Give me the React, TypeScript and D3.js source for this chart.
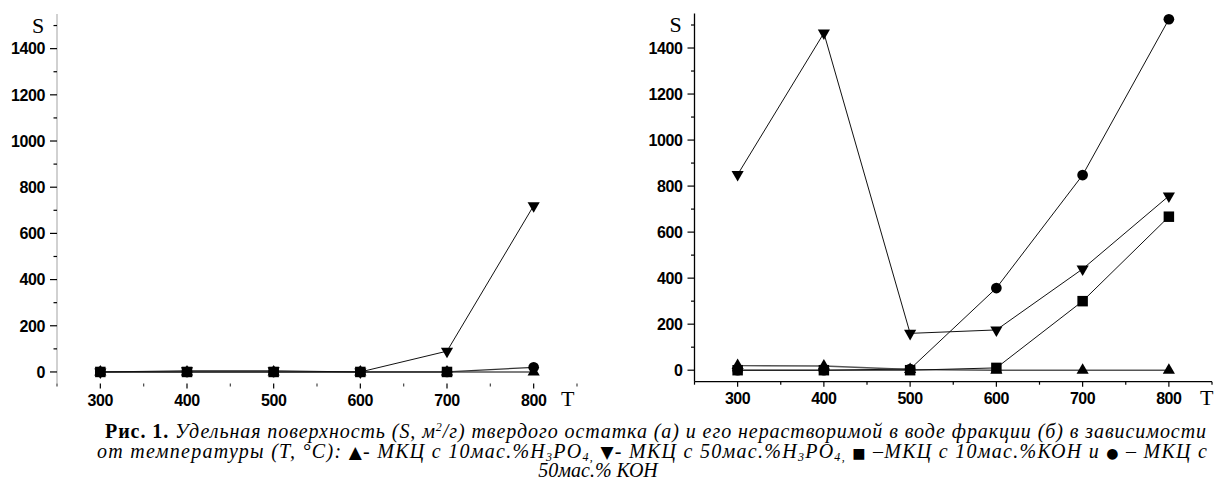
import React from 'react';
import * as d3 from 'd3';

const temps = [300, 400, 500, 600, 700, 800];
const xTicks = [300, 400, 500, 600, 700, 800];
const xMinor = [250, 350, 450, 550, 650, 750, 850];
const yTicks = [0, 200, 400, 600, 800, 1000, 1200, 1400];
const yMinor = [100, 300, 500, 700, 900, 1100, 1300, 1500];

// (а) твердый остаток
const aTriUp = [0, 0, 0, 0, 0, 0];
const aTriDown = [0, 5, 5, 0, 90, 720];
const aSquare = [0, 0, 0, 0, 0, null];
const aCircle = [0, 0, 0, 0, 0, 20];

// (б) нерастворимая фракция
const bTriUp = [20, 18, 3, 0, 0, 0];
const bTriDown = [850, 1465, 160, 175, 440, 757];
const bSquare = [0, 0, 0, 10, 300, 667];
const bCircle = [0, 0, 5, 357, 848, 1525];

type Shape = 'up' | 'down' | 'square' | 'circle';
type Series = { values: (number | null)[]; shape: Shape; color: string; width: number };

const symbolPath = (shape: Shape) => {
  if (shape === 'circle') return d3.symbol(d3.symbolCircle, 90)()!;
  if (shape === 'square') return d3.symbol(d3.symbolSquare, 110)()!;
  return d3.symbol(d3.symbolTriangle, 64)()!;
};

const Panel = ({ left, right, top, bottom, axisColor, xLine, series, tLabel }: {
  left: number; right: number; top: number; bottom: number; axisColor: string;
  xLine: boolean; series: Series[]; tLabel: [number, number];
}) => {
  const x = d3.scaleLinear().domain([250, 850]).range([left, right]);
  const y = d3.scaleLinear().domain([-50, 1550]).range([bottom, top]);
  const line = d3.line<[number, number | null]>()
    .defined(d => d[1] !== null)
    .x(d => x(d[0]))
    .y(d => y(d[1] as number));
  const font = { fontFamily: 'Arial, "Liberation Sans", sans-serif', fontWeight: 700, fontSize: 16, letterSpacing: -0.4 };
  return (
    <g>
      <line x1={left} x2={left} y1={top} y2={bottom} stroke={axisColor} strokeWidth={1.3} />
      {xLine && <line x1={left} x2={right} y1={bottom} y2={bottom} stroke="#000" strokeWidth={1.3} />}
      {yTicks.map(t => (
        <g key={t}>
          <line x1={left - 7} x2={left} y1={y(t)} y2={y(t)} stroke="#000" strokeWidth={1.2} />
          <text x={left - 12} y={y(t)} dy="0.36em" textAnchor="end" {...font}>{t}</text>
        </g>
      ))}
      {yMinor.map(t => (
        <line key={t} x1={left - 3.5} x2={left} y1={y(t)} y2={y(t)} stroke="#000" strokeWidth={1.2} />
      ))}
      {xTicks.map(t => (
        <g key={t}>
          <line x1={x(t)} x2={x(t)} y1={bottom} y2={bottom + 5} stroke="#000" strokeWidth={1.2} />
          <text x={x(t)} y={bottom + 22} textAnchor="middle" {...font}>{t}</text>
        </g>
      ))}
      {xMinor.map(t => (
        <line key={t} x1={x(t)} x2={x(t)} y1={bottom} y2={bottom + 3} stroke={xLine ? '#000' : '#444'} strokeWidth={1.2} />
      ))}
      <text x={left - 25} y={y(1500) + 7} fontFamily='"Liberation Serif", serif' fontSize={22}>S</text>
      <text x={tLabel[0]} y={tLabel[1]} fontFamily='"Liberation Serif", serif' fontSize={22}>T</text>
      {series.map((s, i) => (
        <path key={i} d={line(temps.map((t, j) => [t, s.values[j]]))!} fill="none" stroke={s.color} strokeWidth={s.width} />
      ))}
      {series.map((s, i) => temps.map((t, j) => s.values[j] === null ? null : (
        <path key={`${i}-${j}`} d={symbolPath(s.shape)}
          transform={`translate(${x(t)},${y(s.values[j] as number)})${s.shape === 'down' ? ' rotate(180)' : ''}`}
          fill="#000" />
      )))}
    </g>
  );
};

const serif = '"Liberation Serif", "Times New Roman", serif';

const App = () => {
  const seriesA: Series[] = [
    { values: aSquare, shape: 'square', color: '#444', width: 1.4 },
    { values: aTriUp, shape: 'up', color: '#555', width: 1.4 },
    { values: aCircle, shape: 'circle', color: '#333', width: 1.2 },
    { values: aTriDown, shape: 'down', color: '#111', width: 1 },
  ];
  const seriesB: Series[] = [
    { values: bTriUp, shape: 'up', color: '#555', width: 1.4 },
    { values: bSquare, shape: 'square', color: '#111', width: 1 },
    { values: bCircle, shape: 'circle', color: '#111', width: 1 },
    { values: bTriDown, shape: 'down', color: '#111', width: 1 },
  ];
  const sub = { fontSize: 12, dy: 3 };
  const sym = { fontStyle: 'normal', fontFamily: '"DejaVu Sans", sans-serif' };
  return (
    <div style={{ position: 'absolute', left: 0, top: 0 }}>
      <svg width={1216} height={496} style={{ display: 'block', background: '#fff' }}>
        <Panel left={57} right={577} top={14} bottom={383.5} axisColor="#b8b8b8" xLine={false}
          series={seriesA} tLabel={[561, 406]} />
        <Panel left={694.5} right={1212} top={13.5} bottom={381.7} axisColor="#000" xLine={true}
          series={seriesB} tLabel={[1200, 405]} />
        <text x={105} y={438} fontFamily={serif} fontSize={20} textLength={1101} lengthAdjust="spacing">
          <tspan fontWeight={700}>Рис. 1.</tspan>
          <tspan fontStyle="italic"> Удельная поверхность (S, м</tspan>
          <tspan fontStyle="italic" fontSize={12} dy={-7}>2</tspan>
          <tspan fontStyle="italic" dy={7}>/г) твердого остатка (а) и его нерастворимой в воде фракции (б) в зависимости</tspan>
        </text>
        <text x={97} y={458} fontFamily={serif} fontSize={20} fontStyle="italic" textLength={1110} lengthAdjust="spacing">
          <tspan>от температуры (T, °C): </tspan>
          <tspan {...sym} fontSize={17}>▲</tspan>
          <tspan>- МКЦ с 10мас.%H</tspan>
          <tspan fontSize={sub.fontSize} dy={sub.dy}>3</tspan>
          <tspan dy={-sub.dy}>PO</tspan>
          <tspan fontSize={sub.fontSize} dy={sub.dy}>4,</tspan>
          <tspan dy={-sub.dy}> </tspan>
          <tspan {...sym} fontSize={17}>▼</tspan>
          <tspan>- МКЦ с 50мас.%H</tspan>
          <tspan fontSize={sub.fontSize} dy={sub.dy}>3</tspan>
          <tspan dy={-sub.dy}>PO</tspan>
          <tspan fontSize={sub.fontSize} dy={sub.dy}>4,</tspan>
          <tspan dy={-sub.dy}> </tspan>
          <tspan {...sym} fontSize={14}>■</tspan>
          <tspan> –МКЦ с 10мас.%КОН и </tspan>
          <tspan {...sym} fontSize={14}>●</tspan>
          <tspan> – МКЦ с</tspan>
        </text>
        <text x={598} y={477} fontFamily={serif} fontSize={20} fontStyle="italic" textAnchor="middle">50мас.% КОН</text>
      </svg>
    </div>
  );
};

export default App;
